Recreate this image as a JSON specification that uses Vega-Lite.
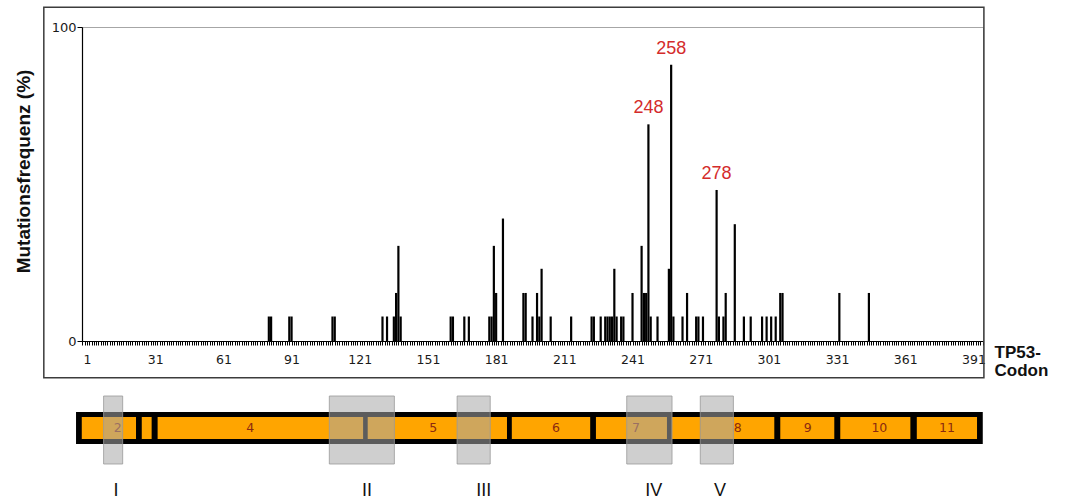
{
  "$schema": "https://vega.github.io/schema/vega-lite/v6.json",
  "background": "white",
  "padding": {"left": 13, "top": 5, "right": 2, "bottom": 0},
  "config": {"view": {"stroke": null}, "font": "Liberation Sans"},
  "bounds": "flush",
  "spacing": 55,
  "datasets": {
    "codons": [
      {"codon": 81, "freq": 7.8}, {"codon": 82, "freq": 7.8},
      {"codon": 90, "freq": 7.8}, {"codon": 91, "freq": 7.8},
      {"codon": 109, "freq": 7.8}, {"codon": 110, "freq": 7.8},
      {"codon": 131, "freq": 7.8}, {"codon": 133, "freq": 7.8},
      {"codon": 136, "freq": 7.8}, {"codon": 137, "freq": 15.3},
      {"codon": 138, "freq": 30.3}, {"codon": 139, "freq": 7.8},
      {"codon": 161, "freq": 7.8}, {"codon": 162, "freq": 7.8},
      {"codon": 167, "freq": 7.8}, {"codon": 169, "freq": 7.8},
      {"codon": 178, "freq": 7.8}, {"codon": 179, "freq": 7.8},
      {"codon": 180, "freq": 30.3}, {"codon": 181, "freq": 15.3},
      {"codon": 184, "freq": 39.0},
      {"codon": 193, "freq": 15.3}, {"codon": 194, "freq": 15.3},
      {"codon": 197, "freq": 7.8}, {"codon": 199, "freq": 15.3},
      {"codon": 200, "freq": 7.8}, {"codon": 201, "freq": 23.0},
      {"codon": 205, "freq": 7.8}, {"codon": 214, "freq": 7.8},
      {"codon": 223, "freq": 7.8}, {"codon": 224, "freq": 7.8},
      {"codon": 227, "freq": 7.8}, {"codon": 229, "freq": 7.8},
      {"codon": 230, "freq": 7.8}, {"codon": 231, "freq": 7.8},
      {"codon": 232, "freq": 7.8}, {"codon": 233, "freq": 23.0},
      {"codon": 234, "freq": 7.8}, {"codon": 236, "freq": 7.8},
      {"codon": 237, "freq": 7.8}, {"codon": 241, "freq": 15.3},
      {"codon": 245, "freq": 30.3}, {"codon": 246, "freq": 15.3},
      {"codon": 247, "freq": 15.3}, {"codon": 248, "freq": 69.0},
      {"codon": 249, "freq": 7.8}, {"codon": 252, "freq": 7.8},
      {"codon": 257, "freq": 23.0}, {"codon": 258, "freq": 88.0},
      {"codon": 259, "freq": 7.8}, {"codon": 263, "freq": 7.8},
      {"codon": 265, "freq": 15.3}, {"codon": 269, "freq": 7.8},
      {"codon": 270, "freq": 7.8}, {"codon": 272, "freq": 7.8},
      {"codon": 278, "freq": 48.1}, {"codon": 279, "freq": 7.8},
      {"codon": 281, "freq": 7.8}, {"codon": 282, "freq": 15.3},
      {"codon": 286, "freq": 37.2}, {"codon": 290, "freq": 7.8},
      {"codon": 293, "freq": 7.8}, {"codon": 298, "freq": 7.8},
      {"codon": 300, "freq": 7.8}, {"codon": 302, "freq": 7.8},
      {"codon": 304, "freq": 7.8}, {"codon": 306, "freq": 15.3},
      {"codon": 307, "freq": 15.3}, {"codon": 332, "freq": 15.3},
      {"codon": 345, "freq": 15.3}
    ],
    "gene": [{"start": -1.6, "end": 392.9}],
    "exons": [
      {"exon": "2", "start": 0.9, "end": 24.5, "labelAt": 16.5},
      {"exon": "", "start": 27.0, "end": 31.3, "labelAt": 29.1},
      {"exon": "4", "start": 33.9, "end": 123.3, "labelAt": 74.2},
      {"exon": "5", "start": 125.3, "end": 185.9, "labelAt": 153.8},
      {"exon": "6", "start": 188.0, "end": 222.1, "labelAt": 207.2},
      {"exon": "7", "start": 224.6, "end": 255.5, "labelAt": 242.0},
      {"exon": "8", "start": 257.6, "end": 302.2, "labelAt": 286.3},
      {"exon": "9", "start": 304.8, "end": 328.3, "labelAt": 316.7},
      {"exon": "10", "start": 330.9, "end": 361.4, "labelAt": 347.9},
      {"exon": "11", "start": 364.2, "end": 390.4, "labelAt": 377.3}
    ],
    "domains": [
      {"domain": "I", "start": 10.4, "end": 18.7, "labelAt": 15.8},
      {"domain": "II", "start": 108.6, "end": 136.9, "labelAt": 125.0},
      {"domain": "III", "start": 164.2, "end": 178.6, "labelAt": 175.8},
      {"domain": "IV", "start": 238.0, "end": 257.7, "labelAt": 249.7},
      {"domain": "V", "start": 270.0, "end": 284.4, "labelAt": 278.6}
    ]
  },
  "vconcat": [
    {
      "width": 901,
      "height": 314,
      "view": {"stroke": "#a6a6a6", "strokeWidth": 1},
      "layer": [
        {
          "data": {"values": [{"box": "frame"}]},
          "mark": {"type": "rect", "filled": false, "stroke": "#3c3c3c", "strokeWidth": 1.5, "clip": false},
          "encoding": {
            "x": {"datum": -18.0, "type": "quantitative", "scale": {"domain": [1, 393], "nice": false, "zero": false}},
            "x2": {"datum": 395.6},
            "y": {"datum": -11.7, "type": "quantitative", "scale": {"domain": [0, 100], "nice": false, "zero": false}},
            "y2": {"datum": 106.3}
          }
        },
        {
          "data": {"name": "codons"},
          "mark": {"type": "bar", "orient": "vertical", "size": 2.2, "color": "#000000"},
          "encoding": {
            "x": {
              "field": "codon",
              "type": "quantitative",
              "scale": {"domain": [1, 393], "nice": false, "zero": false},
              "axis": {
                "title": ["TP53-", "Codon"],
                "titleFont": "Liberation Sans",
                "titleFontSize": 17,
                "titleFontWeight": "bold",
                "titleColor": "#111111",
                "titleAnchor": "start",
                "titleAlign": "left",
                "titleBaseline": "top",
                "titleX": 912,
                "titleY": 3,
                "titleLineHeight": 18,
                "tickCount": 392,
                "tickSize": 4,
                "tickColor": "#000000",
                "tickWidth": 1,
                "domainColor": "#000000",
                "domainWidth": 1.2,
                "grid": false,
                "labelExpr": "(datum.value - 1) % 30 === 0 ? datum.label : ''",
                "labelOverlap": false,
                "labelFlush": false,
                "labelBound": false,
                "labelFont": "DejaVu Sans",
                "labelFontSize": 12.5,
                "labelColor": "#1a1a1a",
                "labelPadding": 8
              }
            },
            "y": {
              "field": "freq",
              "type": "quantitative",
              "scale": {"domain": [0, 100], "nice": false, "zero": false},
              "axis": {
                "title": "Mutationsfrequenz (%)",
                "titleFont": "Liberation Sans",
                "titleFontSize": 19,
                "titleFontWeight": "bold",
                "titleColor": "#111111",
                "titleAngle": 270,
                "titleAlign": "center",
                "titleBaseline": "alphabetic",
                "titleX": -53,
                "titleY": 144,
                "values": [0, 100],
                "tickSize": 5,
                "tickColor": "#000000",
                "domainColor": "#000000",
                "domainWidth": 1.2,
                "grid": false,
                "labelFlush": false,
                "labelFont": "DejaVu Sans",
                "labelFontSize": 13,
                "labelColor": "#1a1a1a",
                "labelPadding": 1
              }
            }
          }
        },
        {
          "data": {"name": "codons"},
          "transform": [{"filter": "datum.freq > 45"}],
          "mark": {"type": "text", "color": "#d42b2b", "font": "Liberation Sans", "fontSize": 18, "baseline": "alphabetic", "dy": -11},
          "encoding": {
            "x": {"field": "codon", "type": "quantitative", "scale": {"domain": [1, 393], "nice": false, "zero": false}},
            "y": {"field": "freq", "type": "quantitative", "scale": {"domain": [0, 100], "nice": false, "zero": false}},
            "text": {"field": "codon", "type": "nominal"}
          }
        }
      ]
    },
    {
      "width": 901,
      "height": 104,
      "layer": [
        {
          "data": {"name": "gene"},
          "mark": {"type": "rect", "color": "#000000", "clip": false},
          "encoding": {
            "x": {"field": "start", "type": "quantitative", "scale": {"domain": [1, 393], "nice": false, "zero": false}, "axis": null},
            "x2": {"field": "end"},
            "y": {"datum": -16, "type": "quantitative", "scale": {"domain": [-72, 32], "nice": false, "zero": false}, "axis": null},
            "y2": {"datum": 16}
          }
        },
        {
          "data": {"name": "exons"},
          "mark": {"type": "rect", "color": "#ffa500"},
          "encoding": {
            "x": {"field": "start", "type": "quantitative", "scale": {"domain": [1, 393], "nice": false, "zero": false}, "axis": null},
            "x2": {"field": "end"},
            "y": {"datum": -11, "type": "quantitative", "scale": {"domain": [-72, 32], "nice": false, "zero": false}, "axis": null},
            "y2": {"datum": 11}
          }
        },
        {
          "data": {"name": "exons"},
          "mark": {"type": "text", "color": "#8b2a10", "font": "DejaVu Sans", "fontSize": 12.5, "baseline": "middle", "align": "center"},
          "encoding": {
            "x": {"field": "labelAt", "type": "quantitative", "scale": {"domain": [1, 393], "nice": false, "zero": false}, "axis": null},
            "y": {"datum": 0, "type": "quantitative", "scale": {"domain": [-72, 32], "nice": false, "zero": false}, "axis": null},
            "text": {"field": "exon", "type": "nominal"}
          }
        },
        {
          "data": {"name": "domains"},
          "mark": {"type": "rect", "fill": "#a8a8a8", "fillOpacity": 0.55, "stroke": "#9a9a9a", "strokeWidth": 1, "strokeOpacity": 0.8},
          "encoding": {
            "x": {"field": "start", "type": "quantitative", "scale": {"domain": [1, 393], "nice": false, "zero": false}, "axis": null},
            "x2": {"field": "end"},
            "y": {"datum": -36, "type": "quantitative", "scale": {"domain": [-72, 32], "nice": false, "zero": false}, "axis": null},
            "y2": {"datum": 32}
          }
        },
        {
          "data": {"name": "domains"},
          "mark": {"type": "text", "color": "#111111", "font": "Liberation Sans", "fontSize": 18, "baseline": "middle", "align": "center"},
          "encoding": {
            "x": {"field": "labelAt", "type": "quantitative", "scale": {"domain": [1, 393], "nice": false, "zero": false}, "axis": null},
            "y": {"datum": -63, "type": "quantitative", "scale": {"domain": [-72, 32], "nice": false, "zero": false}, "axis": null},
            "text": {"field": "domain", "type": "nominal"}
          }
        }
      ]
    }
  ]
}
